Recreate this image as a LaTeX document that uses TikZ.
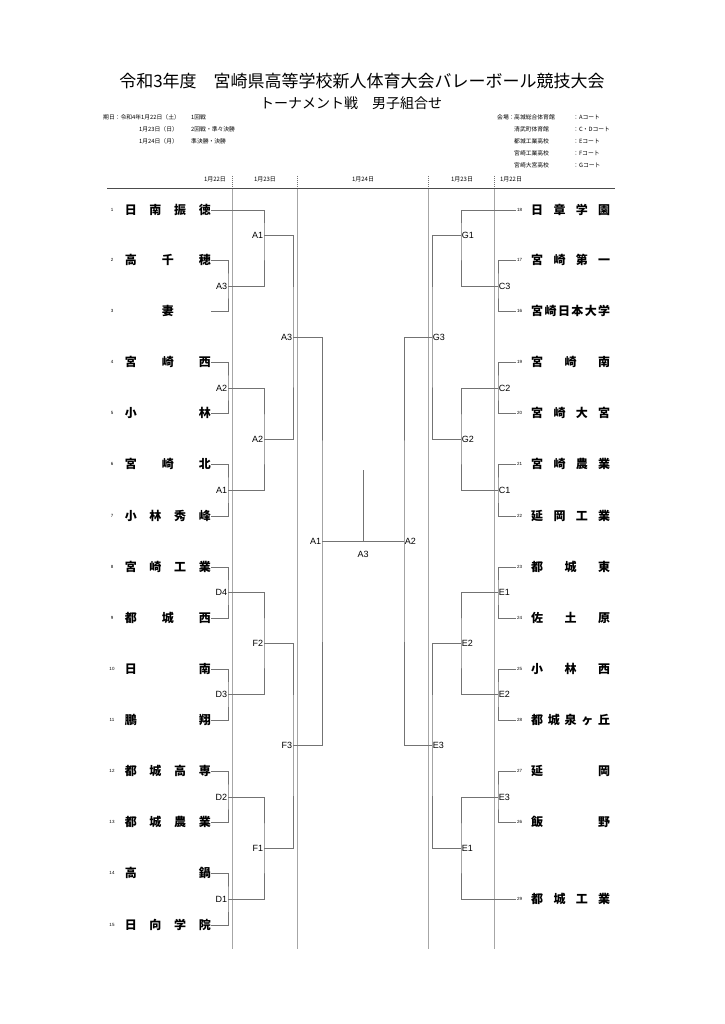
\documentclass[tikz,border=0pt]{standalone}
\usepackage{fontspec}
\setmainfont{Liberation Sans}
\newfontfamily\jp{Noto Sans CJK JP}
\tikzset{
  bracket/.style={draw=black!55, line width=0.9pt},
  column/.style={draw=black!35, line width=0.8pt},
  lmatch/.style={anchor=east, inner sep=0.6pt, font=\fontsize{9}{9}\selectfont},
  rmatch/.style={anchor=west, inner sep=0.6pt, font=\fontsize{9}{9}\selectfont},
  seed/.style={inner sep=1pt, font=\fontsize{4.5}{5}\selectfont},
  school/.style={inner sep=0pt, font=\jp\bfseries\fontsize{12}{12}\selectfont},
  info/.style={anchor=west, inner sep=0pt, font=\jp\fontsize{5.8}{6}\selectfont},
  day/.style={inner sep=0pt, font=\jp\fontsize{6}{6}\selectfont},
}
\begin{document}
\begin{tikzpicture}[x=1pt,y=-1pt]
  \useasboundingbox[fill=white] (0,0) rectangle (724,1024);
  % title
  \node[font=\jp\fontsize{17}{17}\selectfont] (title) at (362,81)
    {令和3年度　宮崎県高等学校新人体育大会バレーボール競技大会};
  \node[font=\jp\fontsize{14}{14}\selectfont] (subtitle) at (351,103)
    {トーナメント戦　男子組合せ};
  % dates and venues
  \node[info] (date1) at (103,117) {期日：令和4年1月22日（土）};
  \node[info] (date2) at (139,129) {1月23日（日）};
  \node[info] (date3) at (139,141) {1月24日（月）};
  \node[info] (round1) at (191,117) {1回戦};
  \node[info] (round2) at (191,129) {2回戦・準々決勝};
  \node[info] (round3) at (191,141) {準決勝・決勝};
  \node[info] (venue) at (497,117) {会場：};
  \foreach \i/\y/\hall/\court in {1/117/高城総合体育館/A, 2/129/清武町体育館/C・D,
      3/141/都城工業高校/E, 4/153/宮崎工業高校/F, 5/165/宮崎大宮高校/G}{
    \node[info] (hall\i) at (514,\y) {\hall};
    \node[info] (court\i) at (573,\y) {：\court コート};
  }
  % day header
  \draw[black!70, line width=0.8pt] (107,188) -- (615,188);
  \foreach \x/\d in {215/22, 265/23, 363/24, 462/23, 511/22}
    \node[day] (day\x) at (\x,179) {1月\d 日};
  \foreach \x in {232,297,428,494}{
    \draw[black!55, line width=0.6pt, dash pattern=on 1pt off 1pt] (\x,176) -- (\x,188);
    \draw[column] (\x,189) -- (\x,949);
  }
  % schools, left
  \foreach \n/\y/\name in {1/210/{日\hfill 南\hfill 振\hfill 徳}, 2/260/{高\hfill 千\hfill 穂},
      3/311/{\hfill 妻\hfill}, 4/362/{宮\hfill 崎\hfill 西}, 5/413/{小\hfill 林},
      6/464/{宮\hfill 崎\hfill 北}, 7/516/{小\hfill 林\hfill 秀\hfill 峰},
      8/567/{宮\hfill 崎\hfill 工\hfill 業}, 9/618/{都\hfill 城\hfill 西},
      10/669/{日\hfill 南}, 11/720/{鵬\hfill 翔}, 12/771/{都\hfill 城\hfill 高\hfill 専},
      13/822/{都\hfill 城\hfill 農\hfill 業}, 14/873/{高\hfill 鍋},
      15/925/{日\hfill 向\hfill 学\hfill 院}}{
    \node[school, anchor=east] (t\n) at (211,\y) {\makebox[86pt]{\name}};
    \node[seed] (s\n) at (112,\y) {\n};
  }
  % schools, right
  \foreach \n/\y/\name in {18/210/{日\hfill 章\hfill 学\hfill 園}, 17/260/{宮\hfill 崎\hfill 第\hfill 一},
      16/311/{宮\hfill 崎\hfill 日\hfill 本\hfill 大\hfill 学}, 19/362/{宮\hfill 崎\hfill 南},
      20/413/{宮\hfill 崎\hfill 大\hfill 宮}, 21/464/{宮\hfill 崎\hfill 農\hfill 業},
      22/516/{延\hfill 岡\hfill 工\hfill 業}, 23/567/{都\hfill 城\hfill 東},
      24/618/{佐\hfill 土\hfill 原}, 25/669/{小\hfill 林\hfill 西},
      28/720/{都\hfill 城\hfill 泉\hfill ヶ\hfill 丘}, 27/771/{延\hfill 岡},
      26/822/{飯\hfill 野}, 29/899/{都\hfill 城\hfill 工\hfill 業}}{
    \node[school, anchor=west] (t\n) at (531,\y) {\makebox[79pt]{\name}};
    \node[seed, anchor=west] (s\n) at (516,\y) {\n};
  }
  % first round
  \foreach \a/\b/\y/\lab in {2/3/286/A3, 4/5/388/A2, 6/7/490/A1, 8/9/592/D4,
      10/11/694/D3, 12/13/797/D2, 14/15/899/D1}{
    \coordinate (m\a) at (228,\y);
    \draw[bracket] (t\a.east) -| (m\a) |- (t\b.east);
    \node[lmatch] (lab\a) at (m\a) {\lab};
  }
  \foreach \a/\b/\y/\lab in {17/16/286/C3, 19/20/388/C2, 21/22/490/C1, 23/24/592/E1,
      25/28/694/E2, 27/26/797/E3}{
    \coordinate (m\a) at (498,\y);
    \draw[bracket] (s\a.west) -| (m\a) |- (s\b.west);
    \node[rmatch] (lab\a) at (m\a) {\lab};
  }
  % second round
  \foreach \a/\b/\q/\y/\lab in {t1.east/m2/q1/235/A1, m4/m6/q2/439/A2,
      m8/m10/q3/643/F2, m12/m14/q4/848/F1}{
    \coordinate (\q) at (264,\y);
    \draw[bracket] (\a) -| (\q) |- (\b);
    \node[lmatch] (lab\q) at (\q) {\lab};
  }
  \foreach \a/\b/\q/\y/\lab in {s18.west/m17/q5/235/G1, m19/m21/q6/439/G2,
      m23/m25/q7/643/E2, m27/s29.west/q8/848/E1}{
    \coordinate (\q) at (461,\y);
    \draw[bracket] (\a) -| (\q) |- (\b);
    \node[rmatch] (lab\q) at (\q) {\lab};
  }
  % quarter finals
  \foreach \a/\b/\q/\x/\y/\lab/\side in {q1/q2/k1/293/337/A3/lmatch, q3/q4/k2/293/745/F3/lmatch,
      q5/q6/k3/432/337/G3/rmatch, q7/q8/k4/432/745/E3/rmatch}{
    \coordinate (\q) at (\x,\y);
    \draw[bracket] (\a) -| (\q) |- (\b);
    \node[\side] (lab\q) at (\q) {\lab};
  }
  % semi finals and final
  \coordinate (semiL) at (322,541);
  \coordinate (semiR) at (404,541);
  \draw[bracket] (k1) -| (semiL) |- (k2);
  \draw[bracket] (k3) -| (semiR) |- (k4);
  \node[lmatch] (labsemiL) at (semiL) {A1};
  \node[rmatch] (labsemiR) at (semiR) {A2};
  \coordinate (finalmid) at (363,541);
  \coordinate (champ) at (363,470);
  \draw[bracket] (semiL) -- (semiR);
  \draw[bracket] (finalmid) -- (champ);
  \node[font=\fontsize{9}{9}\selectfont] (labfinal) at (363,554) {A3};
\end{tikzpicture}
\end{document}
